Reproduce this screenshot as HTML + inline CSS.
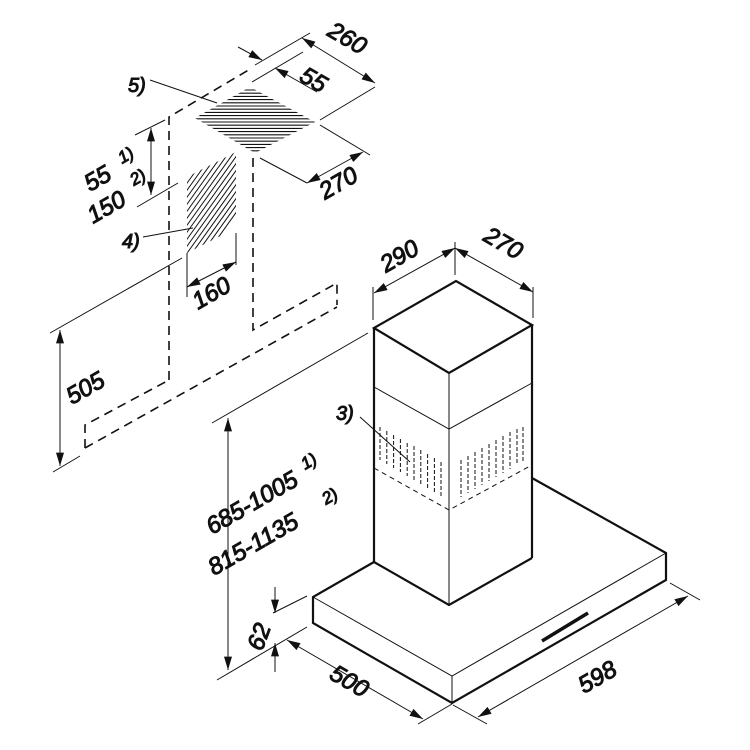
<!DOCTYPE html>
<html><head><meta charset="utf-8"><style>
html,body{margin:0;padding:0;background:#fff;}
svg{display:block;}
text{font-family:"Liberation Sans",sans-serif;font-style:italic;font-weight:normal;fill:#111;}
</style></head><body>
<svg width="750" height="750" viewBox="0 0 750 750" xmlns="http://www.w3.org/2000/svg">
<defs>
<marker id="a" viewBox="0 0 10 6" refX="10" refY="3" markerWidth="15" markerHeight="8" markerUnits="userSpaceOnUse" orient="auto-start-reverse">
<path d="M0,0 L10,3 L0,6 z" fill="#111"/>
</marker>
<clipPath id="dia"><polygon points="195,118 250,87 315,122 255,153"/></clipPath>
<clipPath id="par"><polygon points="187,177 236,152 236,228 187,253"/></clipPath>
</defs>
<g stroke="#111" fill="none">
<g stroke-width="1.6" stroke-dasharray="9,6">
<polyline points="169,380 169,117 252,68"/>
<polyline points="253,158 253,330 337,283 337,305"/>
<polyline points="85,448 85,425 169,380"/>
<line x1="85" y1="448" x2="337" y2="307"/>
</g>
<g stroke-width="1">
<line x1="255" y1="65" x2="310" y2="33"/>
<line x1="252" y1="82" x2="303" y2="52"/>
<line x1="320" y1="120" x2="375" y2="87"/>
<line x1="320" y1="125" x2="370" y2="155"/>
<line x1="260" y1="158" x2="307" y2="183"/>
<line x1="302" y1="38" x2="375" y2="83" marker-start="url(#a)" marker-end="url(#a)"/>
<line x1="238" y1="47" x2="262" y2="60" marker-end="url(#a)"/>
<line x1="317" y1="92" x2="275" y2="68" marker-end="url(#a)"/>
<line x1="307" y1="183" x2="363" y2="152" marker-start="url(#a)" marker-end="url(#a)"/>
<line x1="150" y1="80" x2="217" y2="103"/>
<line x1="143" y1="237" x2="193" y2="228"/>
<line x1="360" y1="417" x2="410" y2="462"/>
<line x1="135" y1="135" x2="165" y2="120"/>
<line x1="137" y1="207" x2="178" y2="183"/>
<line x1="151" y1="128" x2="151" y2="195" marker-start="url(#a)" marker-end="url(#a)"/>
<line x1="187" y1="253" x2="187" y2="297"/>
<line x1="236" y1="233" x2="236" y2="265"/>
<line x1="187" y1="287" x2="236" y2="262" marker-start="url(#a)" marker-end="url(#a)"/>
<line x1="50" y1="333" x2="182" y2="258"/>
<line x1="53" y1="472" x2="80" y2="456"/>
<line x1="60" y1="330" x2="60" y2="466" marker-start="url(#a)" marker-end="url(#a)"/>
<line x1="212" y1="423" x2="368" y2="333"/>
<line x1="228" y1="418" x2="228" y2="670" marker-start="url(#a)" marker-end="url(#a)"/>
<line x1="217" y1="680" x2="307" y2="627"/>
<line x1="273" y1="613" x2="307" y2="596"/>
<line x1="275" y1="587" x2="275" y2="613" marker-end="url(#a)"/>
<line x1="275" y1="672" x2="275" y2="643" marker-end="url(#a)"/>
<line x1="452" y1="704" x2="418" y2="724"/>
<line x1="287" y1="640" x2="423" y2="719" marker-start="url(#a)" marker-end="url(#a)"/>
<line x1="453" y1="705" x2="487" y2="724"/>
<line x1="670" y1="583" x2="700" y2="600"/>
<line x1="478" y1="717" x2="688" y2="596" marker-start="url(#a)" marker-end="url(#a)"/>
<line x1="373" y1="287" x2="373" y2="320"/>
<line x1="455" y1="242" x2="455" y2="275"/>
<line x1="533" y1="287" x2="533" y2="318"/>
<line x1="374" y1="293" x2="455" y2="248" marker-start="url(#a)" marker-end="url(#a)"/>
<line x1="455" y1="248" x2="533" y2="292" marker-start="url(#a)" marker-end="url(#a)"/>
<polyline points="374,387 449,429 532,383"/>
<line x1="449" y1="373" x2="449" y2="605"/>
<polyline points="374,468 449,510 532,465" stroke-dasharray="5,4"/>
<polyline points="313,597 452,676 666,553"/>
<line x1="452" y1="676" x2="452" y2="703"/>
</g>
<g clip-path="url(#dia)" stroke="#111" stroke-width="1.1">
<path d="M180,90H330M180,93.2H330M180,96.4H330M180,99.6H330M180,102.8H330M180,106H330M180,109.2H330M180,112.4H330M180,115.6H330M180,118.8H330M180,122H330M180,125.2H330M180,128.4H330M180,131.6H330M180,134.8H330M180,138H330M180,141.2H330M180,144.4H330M180,147.6H330M180,150.8H330"/>
</g>
<g clip-path="url(#par)" stroke="#111" stroke-width="1">
<path d="M160,270L260,130M165,270L265,130M170,270L270,130M175,270L275,130M180,270L280,130M185,270L285,130M155,270L255,130M150,270L250,130M145,270L245,130M140,270L240,130M135,270L235,130M130,270L230,130M125,270L225,130M120,270L220,130M115,270L215,130M110,270L210,130M190,270L290,130M195,270L295,130"/>
</g>
<g stroke="#111" stroke-width="1" stroke-dasharray="4,2">
<path d="M380,427V460M386.8,431V464M393.6,435V468M400.4,439V472M407.2,443V476M414,446V480M420.8,450V484M427.6,454V488M434.4,458V492M441,462V497"/>
<path d="M461,460V497M468,456V493M475,452V489M482,448V485M489,444V481M496,440V477M503,436V473M510,432V469M517,429V465M523,427V462"/>
</g>
<g stroke="#111" stroke-width="2.2" fill="none">
<polygon points="374,328 456,281 532,325 449,373"/>
<line x1="374" y1="328" x2="374" y2="562"/>
<line x1="532" y1="325" x2="532" y2="558"/>
<polyline points="374,562 449,605 532,558"/>
<polyline points="374,562 313,597 313,623 452,703 666,580 666,553 532,478"/>
<line x1="542" y1="641" x2="588" y2="613" stroke-width="3.5"/>
</g>
<g font-size="24">
<text transform="translate(326,35) rotate(30)">260</text>
<text transform="translate(298,80) rotate(30)">55</text>
<text transform="translate(325,200) rotate(-30)">270</text>
<text transform="translate(198,310) rotate(-30)">160</text>
<text transform="translate(72,405) rotate(-30)">505</text>
<text transform="translate(90,192) rotate(-30)">55</text>
<text transform="translate(93,224) rotate(-30)">150</text>
<text transform="translate(386,273) rotate(-30)">290</text>
<text transform="translate(482,240) rotate(30)">270</text>
<text transform="translate(212,535) rotate(-30)">685-1005</text>
<text transform="translate(214,576) rotate(-30)">815-1135</text>
<text transform="translate(262,652) rotate(-70)">62</text>
<text transform="translate(328,678) rotate(30)">500</text>
<text transform="translate(584,694) rotate(-30)">598</text>
</g>
<g font-size="17">
<text transform="translate(122,164) rotate(-30)">1)</text>
<text transform="translate(134,186) rotate(-30)">2)</text>
<text transform="translate(305,470) rotate(-30)">1)</text>
<text transform="translate(326,505) rotate(-30)">2)</text>
</g>
<g font-size="20">
<text x="128" y="92">5)</text>
<text x="122" y="248">4)</text>
<text x="336" y="420">3)</text>
</g>
</svg>
</body></html>
